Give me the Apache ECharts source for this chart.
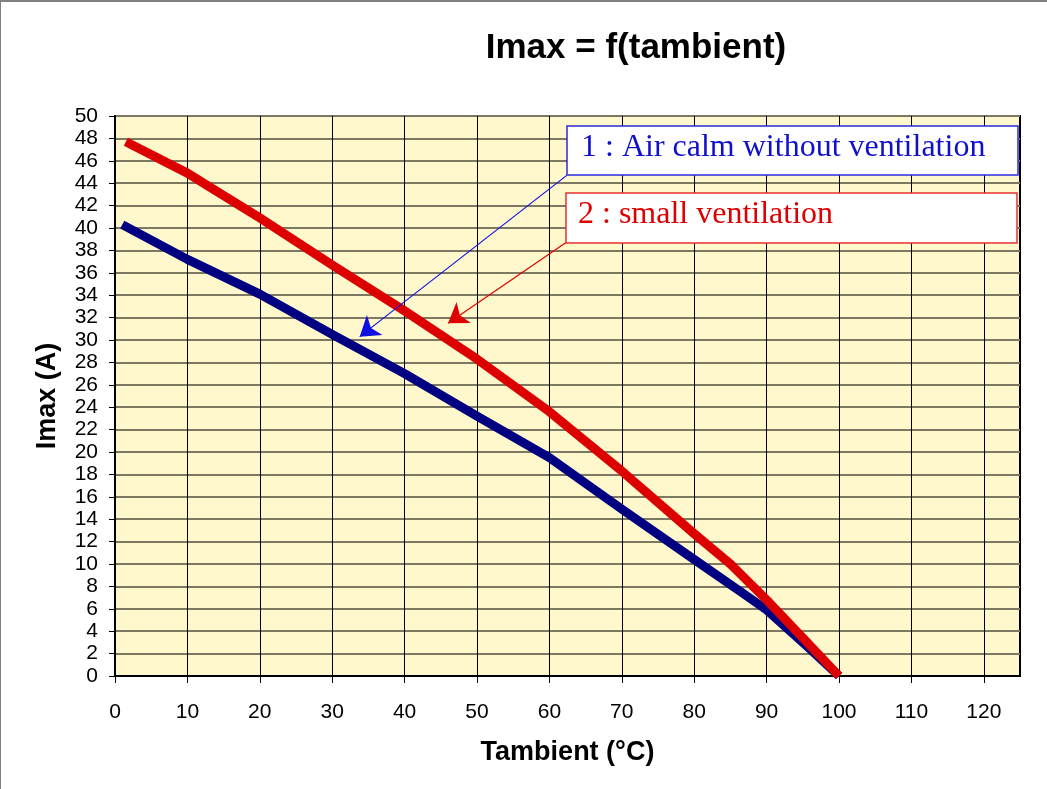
<!DOCTYPE html>
<html>
<head>
<meta charset="utf-8">
<script src="https://cdn.jsdelivr.net/npm/echarts@6/dist/echarts.min.js"></script>
<style>
html,body{margin:0;padding:0;background:#fff;}
#wrap{position:relative;width:1047px;height:789px;}
#chart{position:absolute;left:0;top:0;width:1047px;height:789px;}
#frame{position:absolute;left:0;top:0;width:1047px;height:789px;box-sizing:border-box;border-top:2px solid #808080;border-left:1px solid #808080;pointer-events:none;}
</style>
</head>
<body>
<div id="wrap"><div id="chart"></div><div id="frame"></div></div>
<script>
// Data
const tempBlue = [1, 10, 20, 30, 40, 50, 60, 70, 80, 86.7, 90, 95.5, 100];
const imaxBlue = [40.3, 37.2, 34.1, 30.5, 27.0, 23.2, 19.5, 14.9, 10.4, 7.4, 5.9, 2.7, 0];
const tempRed = [1.5, 10, 13, 20, 30, 40, 50, 60, 70, 80, 85, 90, 95, 100];
const imaxRed = [47.7, 44.9, 43.7, 40.9, 36.7, 32.6, 28.3, 23.6, 18.3, 12.7, 10.0, 6.8, 3.4, 0];
const seriesNames = ['1 : Air calm without ventilation', '2 : small ventilation'];
// annotation arrows: [start(x,y), tip(x,y)] in data units
const arrowBlue = [[62.4, 44.7], [33.8, 30.3]];
const arrowRed = [[62.3, 38.7], [46.0, 31.5]];

const chart = echarts.init(document.getElementById('chart'), null, {renderer: 'canvas'});
const pairs = (xs, ys) => xs.map((x, i) => [x, ys[i]]);

chart.setOption({
  animation: false,
  backgroundColor: '#ffffff',
  grid: {left: 115, right: 27, top: 116, bottom: 113, show: true, backgroundColor: '#fff8cc', borderColor: '#000', borderWidth: 2, containLabel: false},
  xAxis: {
    type: 'value', min: 0, max: 125, interval: 10,
    name: 'Tambient (°C)', nameLocation: 'middle', nameGap: 63,
    nameTextStyle: {fontFamily: 'Liberation Sans, Arial', fontWeight: 'bold', fontSize: 27, color: '#000'},
    axisLine: {show: true, onZero: false, lineStyle: {color: '#000', width: 2}},
    axisTick: {show: true, length: 7, lineStyle: {color: '#000', width: 1}},
    axisLabel: {margin: 26, fontFamily: 'Liberation Sans, Arial', fontSize: 21, color: '#000', showMaxLabel: false},
    splitLine: {show: true, lineStyle: {color: '#000', width: 1}}
  },
  yAxis: {
    type: 'value', min: 0, max: 50, interval: 2,
    name: 'Imax (A)', nameLocation: 'middle', nameGap: 54,
    nameTextStyle: {fontFamily: 'Liberation Sans, Arial', fontWeight: 'bold', fontSize: 27, color: '#000'},
    axisLine: {show: true, onZero: false, lineStyle: {color: '#000', width: 2}},
    axisTick: {show: true, length: 6, lineStyle: {color: '#000', width: 1}},
    axisLabel: {margin: 17, fontFamily: 'Liberation Sans, Arial', fontSize: 21, color: '#000'},
    splitLine: {show: true, lineStyle: {color: '#7d7862', width: 2}}
  },
  graphic: [
    {type: 'text', z: 100, style: {text: 'Imax = f(tambient)', x: 636, y: 48, align: 'center', verticalAlign: 'middle', fill: '#000', font: 'bold 35px "Liberation Sans", Arial'}},
    {type: 'rect', z: 100, shape: {x: 567, y: 126, width: 451, height: 49}, style: {fill: '#ffffff', stroke: '#2a2ae0', lineWidth: 1.5}},
    {type: 'text', z: 101, style: {text: seriesNames[0], x: 581, y: 148, verticalAlign: 'middle', fill: '#1010cc', font: '32px "Liberation Serif", "Times New Roman"'}},
    {type: 'rect', z: 100, shape: {x: 566, y: 193, width: 451, height: 50}, style: {fill: '#ffffff', stroke: '#e83030', lineWidth: 1.5}},
    {type: 'text', z: 101, style: {text: seriesNames[1], x: 578, y: 215, verticalAlign: 'middle', fill: '#dd0000', font: '32px "Liberation Serif", "Times New Roman"'}}
  ],
  series: [
    {
      name: seriesNames[0], type: 'line', data: pairs(tempBlue, imaxBlue),
      showSymbol: false, symbol: 'none', lineStyle: {color: '#000080', width: 9, cap: 'butt', join: 'round'},
      itemStyle: {color: '#000080'}, z: 3
    },
    {
      name: seriesNames[1], type: 'line', data: pairs(tempRed, imaxRed),
      showSymbol: false, symbol: 'none', lineStyle: {color: '#dd0000', width: 9, cap: 'butt', join: 'round'},
      itemStyle: {color: '#dd0000'}, z: 4,
      markLine: {
        silent: true, symbol: ['none', 'arrow'], symbolSize: 19, label: {show: false}, z: 6,
        data: [
          [{coord: arrowBlue[0], lineStyle: {color: '#1010e0', width: 1.2, type: 'solid'}, itemStyle: {color: '#1010e0'}}, {coord: arrowBlue[1]}],
          [{coord: arrowRed[0], lineStyle: {color: '#e00000', width: 1.2, type: 'solid'}, itemStyle: {color: '#e00000'}}, {coord: arrowRed[1]}]
        ]
      }
    }
  ]
});
</script>
</body>
</html>
